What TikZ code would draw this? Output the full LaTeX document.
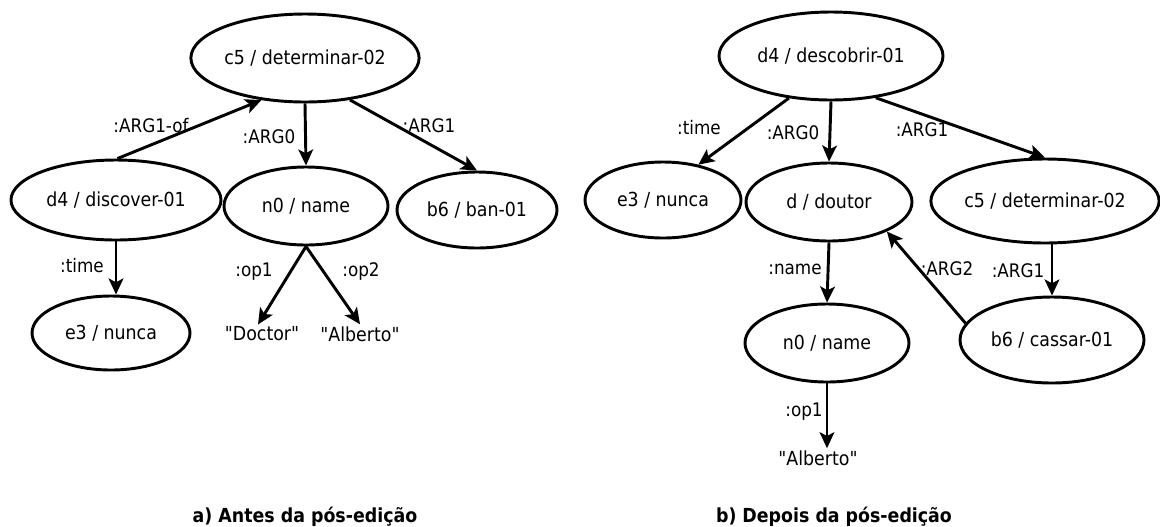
\documentclass[tikz,border=0pt]{standalone}
\usepackage{fontspec}
\setmainfont{DejaVu Sans Condensed}
\usetikzlibrary{shapes.geometric,arrows.meta}
\newcommand{\qq}[1]{\textquotedbl#1\textquotedbl}
\tikzset{
  ell/.style 2 args={ellipse, draw, line width=2.2pt, inner sep=0pt, minimum width=#1, minimum height=#2, font=\fontsize{14.5}{16}\selectfont},
  txt/.style={inner sep=1.5pt, font=\fontsize{14.5}{16}\selectfont},
  lbl/.style={inner sep=0pt, font=\fontsize{14}{16}\selectfont},
  captxt/.style={inner sep=0pt, anchor=base, font=\fontsize{14.5}{16}\selectfont\bfseries},
  conn/.style={line width=2.2pt, -{Stealth[length=12pt, width=11pt, inset=2.8pt]}}
}
\begin{document}
\begin{tikzpicture}[x=0.75pt, y=-0.75pt]
\useasboundingbox (0,0) rectangle (1160,526);
\fill[white] (0,0) rectangle (1160,526);
% ---------- a) left graph ----------
\node[ell={166.5pt}{66pt}] (c5L) at (305,58) {c5 / determinar-02};
\node[ell={157.5pt}{60pt}] (d4L) at (116,200) {d4 / discover-01};
\node[ell={123pt}{58.5pt}] (n0L) at (306,206) {n0 / name};
\node[ell={120pt}{57pt}] (b6L) at (477,210) {b6 / ban-01};
\node[ell={118.5pt}{55.5pt}] (e3L) at (111,333) {e3 / nunca};
\node[txt] (docL) at (262,334) {\qq{Doctor}};
\node[txt] (albL) at (360,334) {\qq{Alberto}};
\draw[conn] (d4L.88) -- (c5L.224);
\draw[conn] (c5L.south) -- (n0L.north);
\draw[conn] (c5L.317) -- (b6L.north);
\draw[conn] (d4L.south) -- (d4L.south |- e3L.north);
\draw[conn] (n0L.south) -- ([xshift=-3pt]docL.north);
\draw[conn] (n0L.south) -- (albL.north);
\node[lbl] (l1) at (151,126) {:ARG1-of};
\node[lbl] (l2) at (269,137) {:ARG0};
\node[lbl] (l3) at (429,126) {:ARG1};
\node[lbl] (l4) at (82,266) {:time};
\node[lbl] (l5) at (254,272) {:op1};
\node[lbl] (l6) at (361,272) {:op2};
% ---------- b) right graph ----------
\node[ell={168pt}{66pt}] (d4R) at (831,56) {d4 / descobrir-01};
\node[ell={117pt}{57pt}] (e3R) at (663,200) {e3 / nunca};
\node[ell={124.5pt}{58.5pt}] (dR) at (829,202) {d / doutor};
\node[ell={168pt}{63pt}] (c5R) at (1045,201) {c5 / determinar-02};
\node[ell={123pt}{58.5pt}] (n0R) at (827,343) {n0 / name};
\node[ell={138pt}{64.5pt}] (b6R) at (1052,340) {b6 / cassar-01};
\node[txt] (albR) at (818,458) {\qq{Alberto}};
\draw[conn] (d4R.225) -- (e3R.45);
\draw[conn] (d4R.south) -- (dR.north);
\draw[conn] (d4R.317) -- (c5R.north);
\draw[conn] (dR.south) -- (n0R.north);
\draw[conn] (b6R.169) -- (dR.333);
\draw[conn] (b6R.north |- c5R.south) -- (b6R.north);
\draw[conn] (n0R.south) -- (n0R.south |- albR.north);
\node[lbl] (r1) at (699,128) {:time};
\node[lbl] (r2) at (793,133) {:ARG0};
\node[lbl] (r3) at (922,130) {:ARG1};
\node[lbl] (r4) at (795,269) {:name};
\node[lbl] (r5) at (947,269) {:ARG2};
\node[lbl] (r6) at (1018,271) {:ARG1};
\node[lbl] (r7) at (804,412) {:op1};
% ---------- captions ----------
\node[captxt] (capA) at (305,522) {a) Antes da pós-edição};
\node[captxt] (capB) at (834,522) {b) Depois da pós-edição};
\end{tikzpicture}
\end{document}
